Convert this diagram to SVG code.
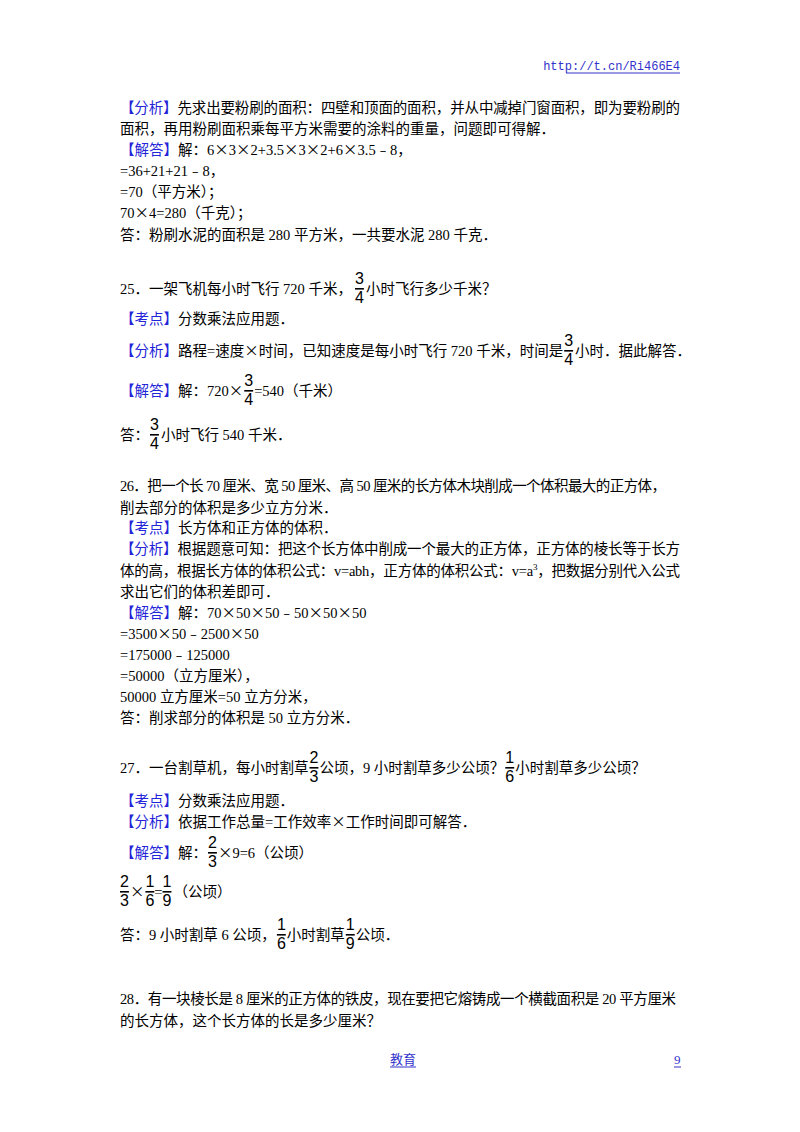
<svg xmlns="http://www.w3.org/2000/svg" width="800" height="1132" viewBox="0 0 800 1132">
<style>
text{font-family:"Liberation Serif","Noto Sans CJK SC",serif;font-size:14.5px;fill:#000}
.b{fill:#2424d8}
.x{font-family:"Noto Sans CJK SC",sans-serif}
.n,.d{font-family:"Liberation Sans",sans-serif;font-size:16px}
.d{text-decoration:overline}
.u{fill:#3333cc}
line{stroke:#000;stroke-width:1}
</style>
<rect width="800" height="1132" fill="#fff"/>
<g id="header">
<text class="u" x="680" y="70" text-anchor="end" style="font-family:'Liberation Mono',monospace;font-size:12px">http://t.cn/Ri466E4</text>
<line x1="566" y1="73" x2="680" y2="73" style="stroke:#3333cc"/>
</g>
<g id="q24">
<text x="120" y="113" textLength="560" lengthAdjust="spacing"><tspan class="b">【分析】</tspan>先求出要粉刷的面积：四壁和顶面的面积，并从中减掉门窗面积，即为要粉刷的</text>
<text x="120" y="134">面积，再用粉刷面积乘每平方米需要的涂料的重量，问题即可得解．</text>
<text x="120" y="155"><tspan class="b">【解答】</tspan>解：6<tspan class="x">×</tspan>3<tspan class="x">×</tspan>2+3.5<tspan class="x">×</tspan>3<tspan class="x">×</tspan>2+6<tspan class="x">×</tspan>3.5﹣8，</text>
<text x="120" y="176">=36+21+21﹣8，</text>
<text x="120" y="197">=70（平方米）；</text>
<text x="120" y="218">70<tspan class="x">×</tspan>4=280（千克）；</text>
<text x="120" y="240">答：粉刷水泥的面积是 280 平方米，一共要水泥 280 千克．</text>
</g>
<g id="q25">
<text x="120" y="294">25．一架飞机每小时飞行 720 千米，<tspan class="n" dx="3" dy="-10">3</tspan><tspan class="d" dx="-8.9" dy="19">4</tspan><tspan dx="2" dy="-9">小时飞行多少千米？</tspan></text>
<text x="120" y="324"><tspan class="b">【考点】</tspan>分数乘法应用题．</text>
<text x="120" y="356"><tspan class="b">【分析】</tspan>路程=速度<tspan class="x">×</tspan>时间，已知速度是每小时飞行 720 千米，时间是<tspan class="n" dx="1" dy="-10">3</tspan><tspan class="d" dx="-8.9" dy="19">4</tspan><tspan dx="2" dy="-9">小时．据此解答．</tspan></text>
<text x="120" y="396"><tspan class="b">【解答】</tspan>解：720<tspan class="x">×</tspan><tspan class="n" dx="1" dy="-10">3</tspan><tspan class="d" dx="-8.9" dy="19">4</tspan><tspan dx="1" dy="-9">=540（千米）</tspan></text>
<text x="120" y="440">答：<tspan class="n" dx="1" dy="-10">3</tspan><tspan class="d" dx="-8.9" dy="19">4</tspan><tspan dx="2" dy="-9">小时飞行 540 千米．</tspan></text>
</g>
<g id="q26">
<text x="120" y="491" textLength="546" lengthAdjust="spacing">26．把一个长 70 厘米、宽 50 厘米、高 50 厘米的长方体木块削成一个体积最大的正方体，</text>
<text x="120" y="513">削去部分的体积是多少立方分米．</text>
<text x="120" y="533"><tspan class="b">【考点】</tspan>长方体和正方体的体积．</text>
<text x="120" y="554" textLength="560" lengthAdjust="spacing"><tspan class="b">【分析】</tspan>根据题意可知：把这个长方体中削成一个最大的正方体，正方体的棱长等于长方</text>
<text x="120" y="576" textLength="560" lengthAdjust="spacing">体的高，根据长方体的体积公式：v=abh，正方体的体积公式：v=a<tspan dy="-6" font-size="9">3</tspan><tspan dy="6">，把数据分别代入公式</tspan></text>
<text x="120" y="597">求出它们的体积差即可．</text>
<text x="120" y="618"><tspan class="b">【解答】</tspan>解：70<tspan class="x">×</tspan>50<tspan class="x">×</tspan>50﹣50<tspan class="x">×</tspan>50<tspan class="x">×</tspan>50</text>
<text x="120" y="639">=3500<tspan class="x">×</tspan>50﹣2500<tspan class="x">×</tspan>50</text>
<text x="120" y="660">=175000﹣125000</text>
<text x="120" y="681">=50000（立方厘米），</text>
<text x="120" y="702">50000 立方厘米=50 立方分米，</text>
<text x="120" y="723">答：削求部分的体积是 50 立方分米．</text>
</g>
<g id="q27">
<text x="120" y="773">27．一台割草机，每小时割草<tspan class="n" dx="1" dy="-10">2</tspan><tspan class="d" dx="-8.9" dy="19">3</tspan><tspan dx="1" dy="-9">公顷，9 小时割草多少公顷？</tspan><tspan class="n" dx="1" dy="-10">1</tspan><tspan class="d" dx="-8.9" dy="19">6</tspan><tspan dx="1" dy="-9">小时割草多少公顷？</tspan></text>
<text x="120" y="806"><tspan class="b">【考点】</tspan>分数乘法应用题．</text>
<text x="120" y="827"><tspan class="b">【分析】</tspan>依据工作总量=工作效率<tspan class="x">×</tspan>工作时间即可解答．</text>
<text x="120" y="858"><tspan class="b">【解答】</tspan>解：<tspan class="n" dx="1" dy="-10">2</tspan><tspan class="d" dx="-8.9" dy="19">3</tspan><tspan class="x" dx="1" dy="-9">×</tspan>9=6（公顷）</text>
<text x="120" y="897"><tspan class="n" dy="-10">2</tspan><tspan class="d" dx="-8.9" dy="19">3</tspan><tspan class="x" dx="1" dy="-9">×</tspan><tspan class="n" dx="1" dy="-10">1</tspan><tspan class="d" dx="-8.9" dy="19">6</tspan><tspan dy="-9">=</tspan><tspan class="n" dy="-10">1</tspan><tspan class="d" dx="-8.9" dy="19">9</tspan><tspan dx="2" dy="-9">（公顷）</tspan></text>
<text x="120" y="940">答：9 小时割草 6 公顷，<tspan class="n" dx="1" dy="-10">1</tspan><tspan class="d" dx="-8.9" dy="19">6</tspan><tspan dx="1" dy="-9">小时割草</tspan><tspan class="n" dx="1" dy="-10">1</tspan><tspan class="d" dx="-8.9" dy="19">9</tspan><tspan dx="1" dy="-9">公顷．</tspan></text>
</g>
<g id="q28">
<text x="120" y="1004" textLength="556" lengthAdjust="spacing">28．有一块棱长是 8 厘米的正方体的铁皮，现在要把它熔铸成一个横截面积是 20 平方厘米</text>
<text x="120" y="1026">的长方体，这个长方体的长是多少厘米？</text>
</g>
<g id="footer">
<text class="u" x="390" y="1064" style="font-size:13px">教育</text>
<line x1="390" y1="1067" x2="416" y2="1067" style="stroke:#3333cc"/>
<text class="u" x="674" y="1064" style="font-size:13px">9</text>
<line x1="674" y1="1067" x2="681" y2="1067" style="stroke:#3333cc"/>
</g>
</svg>
